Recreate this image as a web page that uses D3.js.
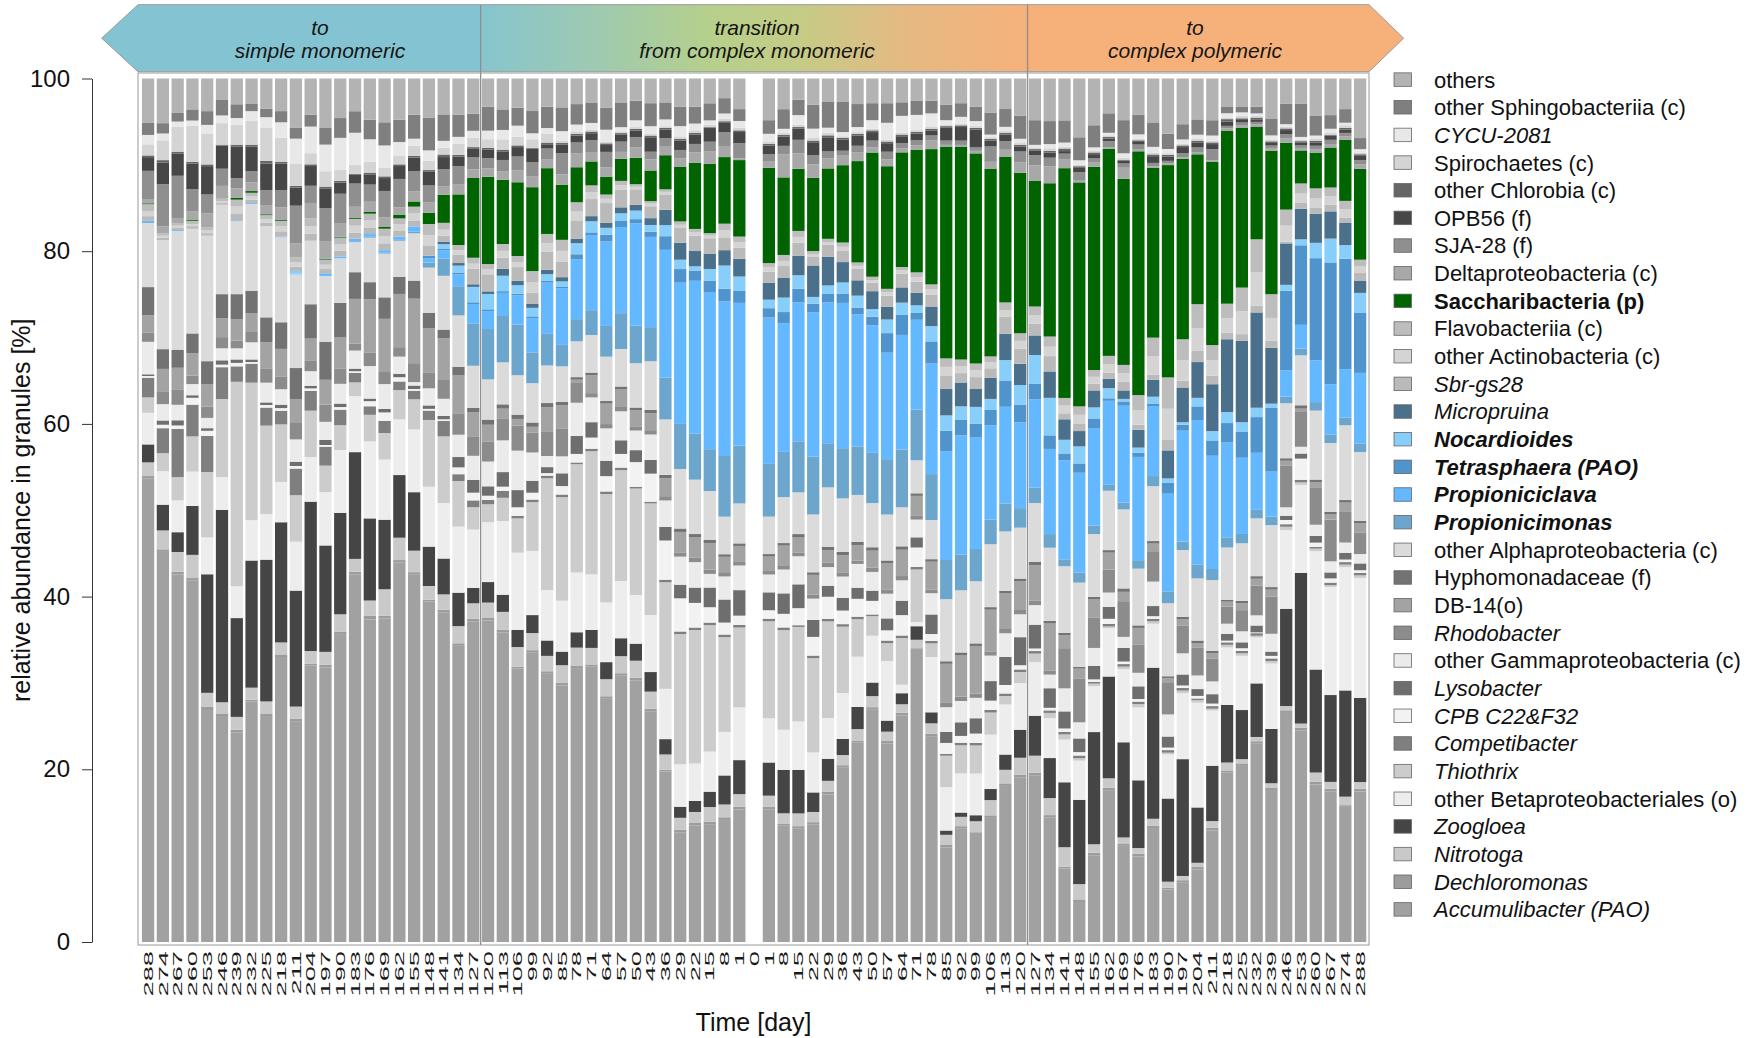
<!DOCTYPE html>
<html>
<head>
<meta charset="utf-8">
<script src="https://cdn.jsdelivr.net/npm/d3@7"></script>
<style>
  html, body { margin: 0; padding: 0; background: #fff; }
  svg { display: block; font-family: "Liberation Sans", Arial, Helvetica, sans-serif; }
</style>
</head>
<body>
<svg id="chart" width="1758" height="1038"></svg>
<script>
// Sampling days (reactor time course; the empty slot at day 0 separates the two runs)
const dayLabels = ["288","274","267","260","253","246","239","232","225","218","211","204","197","190","183","176","169","162","155","148","141","134","127",
  "120","113","106","99","92","85","78","71","64","57","50","43","36","29","22","15","8","1",
  "0",
  "1","8","15","22","29","36","43","50","57","64","71","78","85","92","99","106","113","120",
  "127","134","141","148","155","162","169","176","183","190","197","204","211","218","225","232","239","246","253","260","267","274","288"];

// Relative abundances (%) per taxon, one value per sampling day (stacked bottom to top)
const accumulibacter = [54.2,45.5,42.7,42.1,27.0,26.3,24.4,28.0,26.3,33.2,25.7,32.2,32.0,35.8,42.7,37.7,37.7,44.2,42.7,39.8,38.6,34.5,37.4, 37.6,36.1,31.9,33.8,31.4,30.2,32.1,32.2,28.5,31.2,30.7,27.1,20.0,12.9,13.7,13.8,14.4,15.6, 0, 15.6,13.7,13.3,13.8,17.4,20.5,23.4,27.3,23.3,26.7,34.5,24.2,11.1,13.3,12.7,14.6,18.4,19.4, 19.6,14.6,8.6,4.7,10.2,17.9,11.4,10.1,13.5,6.2,7.0,8.5,13.1,20.0,20.8,23.3,17.9,27.2,25.0,18.5,17.7,15.9,17.7];
const dechloromonas = [0.3,0.2,0.3,0.3,0.4,0.3,0.3,0.2,0.3,0.3,0.3,0.2,0.3,0.3,0.3,0.4,0.3,0.3,0.3,0.2,0.3,0.3,0.3, 0.3,0.3,0.2,0.3,0.3,0.3,0.3,0.2,0.3,0.3,0.3,0.3,0.2,0.3,0.3,0.3,0.2,0.3, 0, 0.3,0.2,0.3,0.3,0.3,0.3,0.2,0.3,0.3,0.3,0.2,0.3,0.3,0.3,0.2,0.3,0.3,0.3, 0.3,0.3,0.2,0.3,0.3,0.3,0.2,0.3,0.3,0.2,0.3,0.3,0.3,0.2,0.3,0.3,0.3,0.2,0.3,0.3,0.3,0.2,0.3];
const nitrotoga = [1.6,2.2,2.3,2.7,1.6,1.3,1.5,1.4,1.4,1.4,1.4,1.5,1.5,2.0,1.5,1.8,3.1,2.6,2.5,1.6,1.8,2.0,1.8, 1.8,2.1,2.3,2.0,1.8,2.1,2.1,2.0,2.0,2.0,2.0,2.0,1.8,1.4,1.3,1.7,1.5,1.5, 0, 1.3,1.2,1.5,1.2,1.3,1.2,1.4,1.3,1.1,1.0,1.0,1.2,1.2,1.1,1.3,1.8,1.6,2.0, 2.0,2.0,2.3,1.8,1.0,1.1,0.7,0.7,0.8,0.7,0.5,0.5,0.8,1.0,0.5,0.5,0.5,0.5,0.5,1.1,0.8,1.0,0.8];
const zoogloea = [2.1,3.0,2.3,5.7,13.8,22.4,11.5,14.8,16.5,14.0,13.5,17.4,12.4,11.8,12.4,9.6,8.1,7.3,6.8,4.6,4.2,3.9,1.8, 2.4,2.0,2.0,2.1,1.8,1.6,1.8,2.1,2.0,2.1,2.0,2.3,1.8,1.3,1.3,1.8,3.4,4.0, 0, 3.9,5.1,5.1,2.3,2.6,1.9,2.6,1.6,1.3,1.3,1.6,1.3,0.5,0.5,0.7,1.3,1.8,3.3, 4.7,4.7,7.6,9.9,13.2,12.0,11.2,8.0,17.9,9.8,13.8,6.5,6.5,6.8,5.8,6.3,6.4,11.5,17.8,12.1,10.2,12.5,9.9];
const otherBetaproteobacteriales = [3.7,3.9,3.7,4.0,4.3,3.8,3.7,4.7,5.3,4.7,5.7,5.2,6.2,7.3,6.5,9.0,7.0,6.5,7.3,7.0,6.5,7.7,6.8, 7.0,8.6,9.0,7.5,5.9,6.0,7.0,6.5,7.0,6.7,5.7,6.7,5.9,5.0,4.4,4.7,5.1,6.2, 0, 5.2,4.7,5.7,4.7,4.8,5.4,5.9,5.5,7.0,1.0,0.5,6.5,5.1,4.6,4.9,6.4,5.9,5.5, 6.3,4.7,5.0,4.6,5.4,5.7,8.6,8.6,5.2,5.2,7.8,12.3,6.5,6.8,6.4,5.4,7.7,9.3,10.4,13.9,12.7,14.5,14.1];
const thiothrix = [1.8,2.1,2.7,4.1,7.6,9.1,23.8,16.0,10.3,6.7,5.4,5.4,3.1,2.9,1.6,3.1,3.1,3.4,3.5,7.8,7.8,5.3,2.6, 2.1,2.7,4.0,5.7,13.1,12.2,12.7,14.4,12.7,13.0,12.5,13.1,12.5,15.3,15.7,14.8,11.1,9.4, 0, 11.4,11.7,11.1,11.1,11.4,7.8,4.4,2.3,2.1,5.5,6.2,1.6,3.7,3.3,3.3,2.6,1.0,1.3, 1.0,0.6,0.6,0.3,0.3,0.2,0.3,0.4,0.3,0.2,0.3,0.3,0.2,0.3,0.3,0.2,0.3,0.4,0.3,0.3,0.2,0.3,0.3];
const competibacter = [2.3,2.9,5.6,3.7,4.2,3.7,1.8,2.2,2.1,1.6,3.1,2.3,2.2,1.8,1.1,1.0,1.4,1.0,1.0,1.1,1.8,0.8,0.8, 0.5,0.8,0.3,0.3,0.3,0.3,0.2,0.3,0.3,0.3,0.2,0.2,0.3,0.3,0.3,0.3,0.3,0.3, 0, 0.3,0.3,0.2,0.3,0.3,0.3,0.3,0.2,0.3,0.3,0.3,0.3,0.2,0.3,0.3,0.3,0.3,0.3, 0.3,0.3,0.3,0.3,0.2,0.3,0.3,0.3,0.3,0.3,0.3,0.2,0.3,0.3,0.3,0.3,0.3,0.3,0.3,0.2,0.3,0.3,0.3];
const cpbC22F32 = [0.2,0.4,0.4,0.8,0.6,0.3,0.4,0.2,0.3,0.3,0.3,0.3,0.2,0.3,0.2,0.6,1.0,0.5,0.2,0.2,0.2,0.8,0.9, 0.5,0.5,1.0,0.8,0.3,1.0,1.0,1.3,1.8,1.6,2.9,3.3,4.6,3.9,2.9,1.8,1.4,1.1, 0, 1.0,1.6,2.0,2.2,2.6,1.6,2.1,1.6,1.2,2.4,2.3,0.8,1.3,0.8,1.1,1.1,1.0,0.5, 0.3,0.3,0.4,0.4,0.3,0.6,0.3,0.3,0.3,0.3,0.3,0.3,0.3,0.2,0.3,0.1,0.3,0.5,2.5,0.5,0.5,0.3,0.3];
const lysobacter = [0.2,0.5,0.6,0.3,0.3,0.5,0.4,0.3,0.3,0.4,0.5,0.3,0.6,0.4,0.3,0.3,0.4,0.4,0.4,0.4,0.4,1.2,1.5, 1.1,1.7,2.0,1.4,0.7,1.5,2.1,1.8,1.8,1.6,1.4,1.6,1.6,1.6,1.8,2.3,2.7,3.0, 0, 2.1,2.4,2.8,2.0,1.3,1.5,1.3,1.2,1.4,1.7,1.2,2.3,1.3,1.6,1.8,2.3,3.3,3.3, 2.8,2.3,2.0,1.6,1.6,1.4,1.6,1.5,1.2,1.3,1.3,0.8,1.1,0.8,0.7,0.8,0.5,0.5,0.6,0.8,0.7,0.8,0.8];
const otherGammaproteobacteria = [3.8,1.9,1.8,1.3,1.2,1.4,1.3,2.0,2.3,1.8,2.6,1.7,2.1,2.3,2.1,3.8,2.9,2.0,0.4,2.0,2.0,2.6,2.8, 2.9,3.7,4.6,3.3,1.3,2.0,3.9,2.9,3.8,3.4,2.3,3.0,3.1,3.3,3.0,1.6,2.7,2.9, 0, 2.1,2.8,3.3,2.5,2.2,2.5,2.8,2.2,2.9,2.4,2.1,2.5,2.9,2.5,2.4,3.0,2.8,2.7, 2.3,1.6,2.7,1.9,2.1,1.7,1.3,1.6,2.9,2.6,2.5,1.6,1.5,1.2,1.3,1.2,2.1,1.0,0.8,1.3,1.3,1.2,1.1];
const rhodobacter = [1.1,1.5,1.8,1.0,1.3,1.3,0.9,1.2,1.6,1.5,2.0,1.2,2.0,1.8,0.8,1.6,1.5,1.1,2.2,1.8,2.2,2.5,2.2, 2.3,2.5,2.9,2.3,2.9,3.3,2.4,0.5,0.5,0.5,0.5,0.5,0.5,0.5,0.5,0.5,0.5,0.5, 0, 0.5,0.5,0.4,0.5,0.5,0.5,0.4,0.5,0.5,0.5,0.5,0.4,0.5,0.5,0.5,0.5,0.5,0.5, 0.5,0.5,4.7,5.1,3.6,2.7,4.2,3.3,3.6,3.8,3.3,3.3,2.7,2.0,2.5,3.5,4.4,4.9,4.2,4.4,4.9,3.6,2.5];
const db14 = [2.0,2.6,2.5,2.6,2.6,2.2,2.5,2.2,3.1,3.2,2.7,2.6,2.9,3.6,5.2,6.2,6.1,6.2,7.5,5.2,4.9,4.4,2.9, 2.0,1.2,0.8,0.7,2.8,2.7,0.3,2.1,2.4,2.1,1.9,2.0,2.1,2.4,2.4,3.1,1.8,1.8, 0, 1.6,2.3,1.8,2.3,1.5,2.0,1.8,2.0,3.1,3.1,2.3,3.3,4.6,4.9,5.6,4.9,4.2,3.4, 4.2,5.5,1.5,1.2,2.1,2.0,1.1,2.0,0.9,0.5,0.7,0.5,0.6,0.6,0.8,0.8,0.8,0.6,0.3,0.6,0.6,1.1,1.1];
const hyphomonadaceae = [3.3,2.3,2.1,2.3,2.7,2.8,2.9,2.6,2.9,3.1,3.6,4.0,4.4,4.0,3.1,2.0,2.5,2.0,2.1,1.8,1.0,1.0,0.5, 0.6,0.5,0.5,0.5,0.5,0.4,0.3,0.3,0.3,0.3,0.3,0.4,0.4,0.4,0.4,0.4,0.3,0.3, 0, 0.3,0.3,0.4,0.3,0.4,0.4,0.4,0.4,0.3,0.4,0.3,0.3,0.3,0.3,0.3,0.3,0.3,0.3, 0.4,0.3,0.3,0.2,0.3,0.3,0.4,0.3,0.3,0.2,0.3,0.3,0.3,0.2,0.3,0.3,0.3,0.3,0.4,0.3,0.3,0.3,0.3];
const otherAlphaproteobacteria = [7.5,12.7,13.8,12.2,14.6,10.4,8.5,10.1,10.6,9.9,10.9,7.4,7.7,5.2,3.5,5.2,5.1,4.2,5.5,5.3,6.3,6.0,4.9, 4.7,4.9,4.6,4.6,4.4,4.2,4.2,4.4,5.2,4.4,5.2,5.7,6.5,7.0,6.4,5.7,4.4,4.7, 0, 4.4,5.4,4.9,6.8,7.0,6.3,5.5,5.2,5.4,4.6,3.9,4.6,7.3,7.3,7.3,7.4,7.0,6.0, 6.9,8.6,7.8,9.9,7.4,7.0,9.3,6.7,6.5,8.6,7.9,7.3,8.3,6.2,6.8,6.8,7.3,6.5,5.9,8.1,8.1,8.8,8.1];
const propionicimonas = [0.1,0,0,0,0,0,0,0,0,0,0,0,0,0,0.1,0.1,0.1,0.1,0.2,0.6,2.0,3.4,4.9, 5.9,5.4,5.9,3.6,3.7,2.6,2.6,2.9,3.6,4.2,4.4,4.0,4.9,5.3,5.4,4.9,7.1,6.8, 0, 6.2,5.3,6.0,6.8,5.2,5.9,5.7,5.9,6.5,6.8,6.0,5.4,4.6,4.2,3.8,2.9,3.3,2.3, 1.8,1.6,0.8,1.2,1.0,0.7,0.8,1.0,1.2,1.4,1.0,1.6,1.3,1.2,1.1,1.0,1.0,0.8,0.8,1.0,1.0,0.9,1.0];
const propioniciclava = [0.2,0,0.1,0,0,0,0.1,0.1,0,0.1,0.1,0,0.3,0.2,0.3,0.3,0.3,0.4,0.6,0.5,1.0,1.4,2.3, 2.1,2.7,3.4,4.0,6.0,6.6,7.0,8.8,9.9,10.1,12.0,10.6,15.0,16.6,18.0,18.4,18.1,16.8, 0, 17.2,15.1,16.3,17.0,16.6,17.1,15.5,15.0,12.5,13.5,10.6,13.0,12.8,14.0,13.1,11.1,11.4,10.1, 10.4,10.0,11.6,11.7,11.4,9.9,11.4,12.2,8.3,11.5,13.1,17.0,13.3,11.2,9.0,6.7,5.3,3.1,2.8,4.9,5.9,5.7,8.3];
const tetrasphaera = [0,0,0,0,0,0,0,0,0,0,0,0,0,0,0,0.1,0,0,0,0.3,0.2,0.2,0.2, 0.2,0.2,0.2,0.2,0.2,0.2,0.6,0.3,0.8,0.7,0.5,0.6,1.6,1.6,1.2,1.3,1.5,1.4, 0, 1.1,1.3,1.6,1.0,1.0,1.1,0.8,1.0,2.3,2.4,0.8,2.6,2.4,1.8,1.6,1.8,3.1,2.1, 1.8,1.6,0.8,1.1,1.2,0.3,0.5,0.5,0.3,1.3,0.7,1.6,1.8,2.3,3.1,4.2,7.5,9.4,9.4,12.0,14.3,13.0,7.1];
const nocardioides = [0,0,0,0,0,0,0,0,0,0,0.3,0,0,0,0,0,0,0,0,0,0.5,0.8,1.8, 1.8,1.8,1.0,1.0,0.8,0.6,1.3,1.3,0.8,0.9,1.0,0.8,1.3,1.1,0.5,1.4,2.7,1.7, 0, 1.0,1.7,1.6,0.8,1.0,1.3,1.4,0.9,1.6,1.4,0.9,1.8,1.8,1.6,2.0,1.3,2.4,2.3, 3.4,4.4,1.6,2.0,1.3,1.2,0.3,0.6,0.8,0.5,0.3,1.0,1.1,1.3,1.1,1.1,0.5,0.7,0.7,1.8,2.8,1.6,2.3];
const micropruina = [0,0,0,0,0,0,0,0,0,0,0,0,0,0,0,0,0,0,0,0,0.3,0.3,0.3, 0.3,0.8,0.5,0.5,0.5,0.5,0.5,0.6,0.6,0.7,0.7,0.8,1.8,2.0,1.8,1.8,1.8,2.1, 0, 2.0,2.3,2.3,3.7,3.4,2.4,1.8,2.1,1.5,1.8,1.5,2.3,3.1,2.8,2.1,2.5,3.1,2.5, 2.3,3.1,2.4,1.8,2.0,1.1,1.0,2.1,2.0,3.3,4.1,4.2,5.5,8.6,9.6,11.2,6.6,4.9,3.6,3.4,3.2,2.6,1.4];
const sbrGs28 = [0.5,0.3,0.3,0.3,0.3,0.2,0.8,0.4,0.4,0.6,0.5,0.8,0.5,0.7,0.7,0.7,0.8,0.7,0.7,1.2,0.7,1.0,1.8, 2.0,1.3,1.6,1.3,2.1,1.8,2.1,2.0,2.3,2.1,1.8,1.4,1.8,1.8,1.8,1.8,1.5,1.3, 0, 1.3,1.4,1.5,1.0,1.4,1.3,1.4,1.0,1.3,1.6,1.3,1.4,1.6,1.1,1.4,1.1,2.0,1.8, 1.4,1.8,0.7,0.9,0.8,0.7,1.0,0.6,0.6,1.3,0.8,1.3,1.0,0.8,0.8,0.8,0.8,0.2,0.7,0.7,0.8,0.6,1.0];
const otherActinobacteria = [0.6,0.2,0.2,0.2,0.3,0.2,0.8,0.4,0.4,0.6,0.5,0.9,0.5,0.7,0.8,0.8,0.8,0.7,0.8,1.2,0.7,0.5,0.6, 0.6,0.8,0.6,1.2,1.0,1.3,1.1,0.8,0.5,0.5,0.3,0.3,0.3,0.3,0.4,0.3,0.8,0.6, 0, 0.5,0.6,0.7,0.3,0.3,0.5,0.3,0.3,0.4,0.4,0.5,0.6,1.0,0.8,0.8,0.7,0.8,0.9, 1.0,1.1,0.9,1.0,0.8,1.0,1.0,1.7,2.2,3.6,2.4,2.7,1.8,1.7,2.7,3.9,2.7,1.9,1.1,1.1,1.0,1.0,0.7];
const flavobacteriia = [0.8,0.3,0.3,0.4,0.4,0.3,0.8,0.4,0.5,0.6,0.6,0.9,0.6,0.8,0.8,0.8,0.9,0.7,0.8,1.3,0.8,0.6,0.7, 0.6,0.8,0.7,1.3,1.1,1.3,1.1,0.8,0.5,0.5,0.3,0.3,0.3,0.4,0.4,0.3,0.8,0.7, 0, 0.5,0.7,0.7,0.4,0.4,0.5,0.4,0.4,0.4,0.4,0.6,0.6,1.0,0.8,0.8,0.7,0.9,0.9, 1.0,1.2,0.9,1.0,0.8,1.0,1.0,1.8,2.2,3.7,2.5,2.8,1.8,1.7,2.8,3.9,2.8,1.9,1.2,1.2,1.0,1.0,0.8];
const saccharibacteria = [0.1,0,0,0.1,0,0,0.2,0.2,0.1,0.1,0,0,0.1,0.1,0.1,0.2,0.2,0.4,0.6,1.3,3.3,5.9,9.3, 10.2,7.5,8.6,9.8,7.7,6.5,4.1,2.8,2.1,2.6,3.1,3.6,4.0,6.4,7.8,8.1,7.8,9.0, 0, 11.2,9.1,7.3,8.6,8.3,9.1,11.9,14.6,14.4,13.5,14.5,15.9,24.9,25.0,24.7,22.1,17.2,18.9, 14.8,18.0,26.9,26.3,23.9,24.4,21.9,28.8,20.1,25.0,21.3,17.6,21.5,20.4,18.9,13.2,16.9,7.9,3.9,4.2,4.7,7.2,10.7];
const deltaproteobacteria = [0.5,0.8,0.6,1.0,1.6,1.5,1.1,1.0,1.0,1.5,1.6,1.8,2.0,1.6,1.3,1.2,1.1,0.9,1.2,1.2,1.0,1.2,1.0, 1.0,1.0,1.4,1.3,1.0,1.2,1.6,1.1,1.1,0.8,1.2,1.3,1.0,1.0,1.2,1.5,1.3,0.2, 0, 0.8,2.7,1.8,1.6,1.2,1.2,1.0,0.6,0.8,0.5,0.5,1.0,0.2,0.2,0.3,0.8,0.8,1.2, 1.8,2.0,1.0,0.2,0.5,0.2,1.3,0.2,0.2,0.2,0.2,0.2,0.2,0.3,0.3,0.3,0.3,0.5,0.3,0.4,0.4,0.4,0.5];
const sja28 = [3.3,4.9,4.9,2.6,2.2,2.0,1.2,1.3,1.8,2.0,4.4,2.0,3.9,3.4,2.7,2.0,3.1,3.3,2.3,2.0,2.0,2.1,1.4, 1.2,1.3,1.6,1.6,1.3,2.5,1.3,1.4,1.8,1.2,1.2,0.9,1.0,1.0,1.0,1.1,1.6,1.8, 0, 0.8,1.0,1.6,1.1,0.8,0.5,0.8,0.8,0.9,0.6,0.6,0.6,0.5,0.5,0.4,1.8,1.0,1.3, 1.2,1.0,0.7,1.0,0.5,0.7,0.5,0.6,0.4,0.3,0.5,0.6,1.3,0.3,0.3,0.3,0.3,0.5,0.3,0.4,0.5,0.4,0.5];
const opb56 = [1.6,2.5,2.6,3.0,3.3,2.7,3.7,2.9,3.1,3.1,2.1,2.3,2.3,1.3,1.0,1.2,1.5,1.5,1.6,1.6,1.4,1.1,1.0, 1.0,1.0,1.1,1.6,0.5,1.0,0.8,0.8,0.8,0.8,0.8,1.7,1.0,1.1,1.1,1.6,1.1,1.3, 0, 1.0,1.1,1.3,1.5,1.6,1.3,1.2,1.0,1.0,0.8,0.8,0.6,1.5,1.6,2.1,0.7,0.8,0.6, 0.5,0.6,0.3,0.5,0.5,0.3,0.3,0.3,0.8,0.5,0.7,0.6,0.6,0.5,0.3,0.3,0.3,0.5,0.3,0.4,0.5,0.4,0.5];
const otherChlorobia = [0.2,0.3,0.2,0.2,0.2,0.1,0.2,0.2,0.3,0.2,0.2,0.2,0.2,0.2,0.1,0.2,0.2,0.2,0.2,0.2,0.3,0.2,0.2, 0.2,0.2,0.2,0.1,0.2,0.2,0.2,0.2,0.2,0.2,0.2,0.2,0.2,0.2,0.2,0.1,0.2,0.2, 0, 0.2,0.2,0.2,0.2,0.3,0.2,0.2,0.2,0.2,0.2,0.2,0.2,0.2,0.2,0.2,0.2,0.2,0.2, 0.2,0.2,0.3,0.2,0.2,0.2,0.1,0.2,0.2,0.2,0.2,0.2,0.2,0.3,0.2,0.2,0.2,0.2,0.2,0.2,0.1,0.2,0.2];
const spirochaetes = [1.3,2.3,2.9,4.2,3.6,2.5,2.3,2.8,3.9,2.8,2.6,1.3,1.8,1.3,1.1,1.3,1.0,1.0,1.2,1.1,0.8,1.3,1.1, 1.0,1.2,1.0,1.0,1.0,0.3,0.3,0.2,0.2,0.2,0.2,0.2,0.2,0.3,0.3,0.3,0.3,0.3, 0, 0.3,0.2,0.3,0.3,0.3,0.2,0.2,0.2,0.2,0.2,0.2,0.2,0.2,0.2,0.2,0.2,0.2,0.2, 0.2,0.3,0.2,0.2,0.2,0.2,0.3,0.2,0.2,0.2,0.2,0.2,0.2,0.2,0.3,0.2,0.2,0.2,0.2,0.2,0.2,0.3,0.2];
const cycu2081 = [1.1,0.8,0.6,0.6,1.0,0.9,0.8,1.1,1.2,1.8,2.9,3.1,3.1,3.7,3.7,2.6,2.6,1.6,0.8,1.2,0.8,0.8,0.8, 1.0,1.1,1.3,0.7,0.7,1.1,0.8,0.8,1.4,0.5,0.8,0.9,0.8,1.2,0.8,0.5,0.6,0.8, 0, 0.9,0.5,1.1,1.1,0.6,0.5,0.6,1.0,2.0,2.0,1.8,1.6,0.5,0.8,0.6,0.3,0.5,0.5, 0.3,0.5,0.5,0.5,0.4,0.3,0.5,0.5,0.7,0.5,0.5,0.5,0.6,0.5,0.4,0.3,0.5,0.3,0.3,0.4,0.5,0.3,0.4];
const otherSphingobacteriia = [1.4,1.2,1.0,1.3,1.6,1.8,1.6,0.9,1.0,1.3,1.3,1.4,2.0,2.3,2.5,2.3,2.7,2.6,2.8,3.8,3.1,2.6,2.0, 2.8,2.4,2.1,2.6,2.5,2.8,2.4,2.4,2.6,2.9,2.3,2.7,2.0,2.3,2.0,2.0,1.8,1.4, 0, 1.6,2.3,1.8,2.8,3.1,3.6,2.7,2.0,2.3,1.6,1.7,1.5,1.8,1.6,1.7,2.6,2.1,2.7, 2.9,2.7,2.6,2.7,2.6,2.3,3.9,2.3,2.9,1.8,1.8,1.8,1.8,0.8,0.7,0.8,2.0,2.4,3.9,2.3,1.6,1.6,1.3];
const others = [5.2,5.2,4.0,3.6,3.8,2.5,3.0,2.9,3.5,3.8,5.7,4.2,5.7,4.6,3.8,4.8,5.1,4.8,4.2,4.6,4.2,4.2,4.1, 3.3,3.6,3.4,3.8,3.3,3.4,3.0,2.8,3.4,2.8,2.6,2.9,2.8,3.3,3.3,2.9,2.3,3.6, 0, 4.9,3.6,2.5,3.1,2.7,2.7,3.0,2.9,2.9,2.8,2.6,2.6,3.1,2.9,3.3,4.0,3.6,4.4, 4.9,5.0,4.9,6.9,5.5,4.1,4.9,4.3,5.2,6.5,5.4,4.8,4.9,3.3,3.3,3.3,4.7,3.0,3.0,4.4,4.3,3.6,7.0];

// Taxa in stacking order (bottom first), with legend names and fills
const taxonValues = [accumulibacter, dechloromonas, nitrotoga, zoogloea, otherBetaproteobacteriales,
  thiothrix, competibacter, cpbC22F32, lysobacter, otherGammaproteobacteria, rhodobacter, db14,
  hyphomonadaceae, otherAlphaproteobacteria, propionicimonas, propioniciclava, tetrasphaera,
  nocardioides, micropruina, sbrGs28, otherActinobacteria, flavobacteriia, saccharibacteria,
  deltaproteobacteria, sja28, opb56, otherChlorobia, spirochaetes, cycu2081, otherSphingobacteriia, others];
const taxonNames = ["Accumulibacter (PAO)", "Dechloromonas", "Nitrotoga", "Zoogloea", "other Betaproteobacteriales (o)",
  "Thiothrix", "Competibacter", "CPB C22&F32", "Lysobacter", "other Gammaproteobacteria (c)", "Rhodobacter", "DB-14(o)",
  "Hyphomonadaceae (f)", "other Alphaproteobacteria (c)", "Propionicimonas", "Propioniciclava", "Tetrasphaera (PAO)",
  "Nocardioides", "Micropruina", "Sbr-gs28", "other Actinobacteria (c)", "Flavobacteriia (c)", "Saccharibacteria (p)",
  "Deltaproteobacteria (c)", "SJA-28 (f)", "OPB56 (f)", "other Chlorobia (c)", "Spirochaetes (c)", "CYCU-2081",
  "other Sphingobacteriia (c)", "others"];
const taxonColors = ["#a1a1a1", "#9c9c9c", "#c9c9c9", "#454545", "#ededed",
  "#cccccc", "#7f7f7f", "#f2f2f2", "#6e6e6e", "#ebebeb", "#8c8c8c", "#a3a3a3",
  "#737373", "#dbdbdb", "#6ca6cd", "#63b8ff", "#4f94cd",
  "#87cefa", "#4a708b", "#bababa", "#d4d4d4", "#bdbdbd", "#006400",
  "#a8a8a8", "#8f8f8f", "#474747", "#666666", "#d4d4d4", "#e8e8e8",
  "#7f7f7f", "#b3b3b3"];
const italicTaxa = new Set(["Accumulibacter (PAO)", "Dechloromonas", "Nitrotoga", "Zoogloea", "Thiothrix",
  "Competibacter", "CPB C22&F32", "Lysobacter", "Rhodobacter", "Propionicimonas", "Propioniciclava",
  "Tetrasphaera (PAO)", "Nocardioides", "Micropruina", "Sbr-gs28", "CYCU-2081"]);
const boldTaxa = new Set(["Propionicimonas", "Propioniciclava", "Tetrasphaera (PAO)", "Nocardioides", "Saccharibacteria (p)"]);

// Feeding phases shown in the banner (first and last bar index of each)
const phaseLines = [["to", "simple monomeric"], ["transition", "from complex monomeric"], ["to", "complex polymeric"]];
const phaseStart = [0, 23, 60];
const phaseEnd = [22, 59, 82];

const svg = d3.select("#chart");

const keys = taxonNames;
const rows = dayLabels.map((d, i) => {
  const r = { idx: i, day: d };
  keys.forEach((k, j) => { r[k] = taxonValues[j][i]; });
  return r;
});
const stacked = d3.stack().keys(keys).offset(d3.stackOffsetExpand)(rows);

const x = d3.scaleBand().domain(d3.range(dayLabels.length))
  .range([140.7, 1367.5]).paddingInner(0.17).paddingOuter(0.085);
const y = d3.scaleLinear().domain([0, 1]).range([942, 78.5]);

const frame = { left: 138, right: 1369, top: 73, bottom: 945 };
const banner = { top: 4.7, bottom: 71.7, tipL: 101.7, tipR: 1403.6 };
const midY = (banner.top + banner.bottom) / 2;
const gapHalf = x.step() * x.paddingInner() / 2;
const divX = [x(phaseStart[1]) - gapHalf, x(phaseStart[2]) - gapHalf];

// ---- banner ----
const defs = svg.append("defs");
const grad = defs.append("linearGradient").attr("id", "phaseGrad")
  .attr("gradientUnits", "userSpaceOnUse")
  .attr("x1", divX[0]).attr("x2", divX[1]).attr("y1", 0).attr("y2", 0);
[[0, "#86c5cf"], [0.22, "#9fcaaf"], [0.42, "#b6d08b"], [0.58, "#c4cc86"], [0.78, "#e6b983"], [1, "#f6b17b"]]
  .forEach(([o, c]) => grad.append("stop").attr("offset", o).attr("stop-color", c));

svg.append("path")
  .attr("d", `M${banner.tipL},${midY} L${frame.left},${banner.top} L${divX[0]},${banner.top} L${divX[0]},${banner.bottom} L${frame.left},${banner.bottom} Z`)
  .attr("fill", "#84c4d2");
svg.append("rect")
  .attr("x", divX[0]).attr("y", banner.top)
  .attr("width", divX[1] - divX[0]).attr("height", banner.bottom - banner.top)
  .attr("fill", "url(#phaseGrad)");
svg.append("path")
  .attr("d", `M${divX[1]},${banner.top} L${frame.right},${banner.top} L${banner.tipR},${midY} L${frame.right},${banner.bottom} L${divX[1]},${banner.bottom} Z`)
  .attr("fill", "#f6b17b");
svg.append("path")
  .attr("d", `M${banner.tipL},${midY} L${frame.left},${banner.top} L${frame.right},${banner.top} L${banner.tipR},${midY} L${frame.right},${banner.bottom} L${frame.left},${banner.bottom} Z`)
  .attr("fill", "none").attr("stroke", "#9a9a9a").attr("stroke-width", 1);

const phaseCenters = [320, 757, 1195];
phaseLines.forEach((lines, p) => {
  const t = svg.append("text")
    .attr("x", phaseCenters[p]).attr("text-anchor", "middle")
    .attr("font-style", "italic").attr("font-size", 21).attr("fill", "#151515");
  t.append("tspan").attr("x", phaseCenters[p]).attr("y", 35).text(lines[0]);
  t.append("tspan").attr("x", phaseCenters[p]).attr("y", 58).text(lines[1]);
});

// ---- stacked bars ----
const layer = svg.append("g");
layer.selectAll("g.taxon")
  .data(stacked)
  .join("g")
  .attr("class", "taxon")
  .attr("fill", (d, i) => taxonColors[i])
  .selectAll("rect")
  .data(d => d.filter(s => s[1] > s[0]))
  .join("rect")
  .attr("x", s => x(s.data.idx))
  .attr("width", x.bandwidth())
  .attr("y", s => y(s[1]))
  .attr("height", s => y(s[0]) - y(s[1]));

// phase dividers and plot frame
divX.forEach(dx => {
  svg.append("line")
    .attr("x1", dx).attr("x2", dx).attr("y1", banner.top).attr("y2", frame.bottom)
    .attr("stroke", "#8f8f8f").attr("stroke-width", 1.3);
});
svg.append("rect")
  .attr("x", frame.left).attr("y", frame.top)
  .attr("width", frame.right - frame.left).attr("height", frame.bottom - frame.top)
  .attr("fill", "none").attr("stroke", "#9a9a9a").attr("stroke-width", 1);

// ---- y axis ----
const yAxis = svg.append("g")
  .attr("transform", "translate(92,0)")
  .call(d3.axisLeft(y).tickValues([0, 0.2, 0.4, 0.6, 0.8, 1])
    .tickFormat(d => Math.round(d * 100)).tickSize(10).tickSizeOuter(0).tickPadding(12));
yAxis.selectAll("path, line").attr("stroke", "#333");
yAxis.selectAll("text").attr("font-size", 24).attr("fill", "#111")
  .attr("font-family", "'Liberation Sans', Arial, sans-serif");

svg.append("text")
  .attr("transform", `translate(21,${(y(0) + y(1)) / 2}) rotate(-90)`)
  .attr("text-anchor", "middle").attr("dy", "0.35em")
  .attr("font-size", 25).attr("fill", "#111")
  .text("relative abundance in granules [%]");

// ---- x labels (vertical, stretched along the reading direction) ----
svg.append("g").selectAll("text")
  .data(dayLabels)
  .join("text")
  .attr("transform", (d, i) => `translate(${x(i) + x.bandwidth() / 2},951) rotate(-90) scale(2.1,1)`)
  .attr("text-anchor", "end").attr("dy", "0.36em")
  .attr("font-size", 13).attr("fill", "#1a1a1a")
  .text(d => d);

svg.append("text")
  .attr("x", (frame.left + frame.right) / 2).attr("y", 1031)
  .attr("text-anchor", "middle").attr("font-size", 25).attr("fill", "#111")
  .text("Time [day]");

// ---- legend ----
const legendOrder = d3.range(taxonNames.length).reverse();
const legend = svg.append("g");
const lg = legend.selectAll("g")
  .data(legendOrder)
  .join("g")
  .attr("transform", (d, i) => `translate(0,${79.6 + i * 27.66})`);
lg.append("rect")
  .attr("x", 1394).attr("y", -6.75).attr("width", 17.5).attr("height", 13.5)
  .attr("fill", d => taxonColors[d]).attr("stroke", "#666").attr("stroke-width", 0.8);
lg.append("text")
  .attr("x", 1434).attr("dy", "0.36em")
  .attr("font-size", 22).attr("fill", "#111")
  .attr("font-style", d => italicTaxa.has(taxonNames[d]) ? "italic" : "normal")
  .attr("font-weight", d => boldTaxa.has(taxonNames[d]) ? "bold" : "normal")
  .text(d => taxonNames[d]);
</script>
</body>
</html>
